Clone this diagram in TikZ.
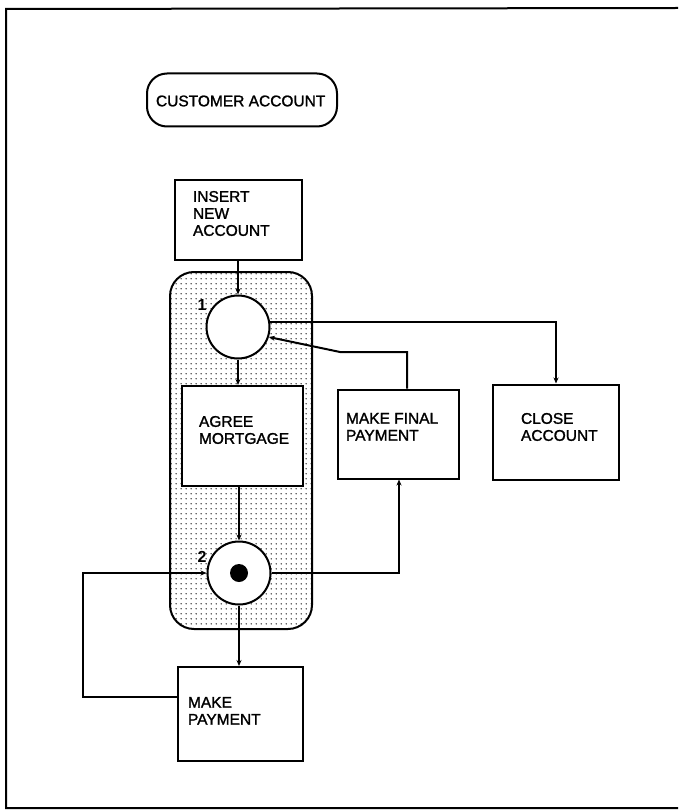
\documentclass[tikz,border=0pt]{standalone}
\usepackage{fontspec}
\setmainfont{Liberation Sans}
\newfontfamily\diafont[FakeBold=1.4]{Liberation Sans}
\usetikzlibrary{arrows.meta,patterns,calc}
\pgfdeclarepatternformonly{stipple}{\pgfpointorigin}{\pgfpoint{2.5pt}{2.5pt}}{\pgfpoint{5pt}{5pt}}{\pgfpathcircle{\pgfpoint{1.2pt}{1.2pt}}{0.75pt}\pgfusepath{fill}}
\begin{document}
\begin{tikzpicture}[x=1pt,y=-1pt,line width=2pt,
  >={Stealth[length=6pt,width=5pt]},
  box/.style={draw,rectangle,inner sep=0pt},
  txt/.style={font=\diafont\fontsize{15.5}{17}\selectfont,align=left,inner sep=0pt,anchor=north west},
  place/.style={draw,circle,fill=white,minimum size=63pt,inner sep=0pt},
  token/.style={circle,fill=black,minimum size=18pt,inner sep=0pt},
  num/.style={font=\fontsize{16}{17}\selectfont\bfseries,inner sep=0pt},
  region/.style={draw,pattern=stipple,pattern color=black!80,rounded corners=24pt}]
\useasboundingbox (0,0) rectangle (678,810);
% frame
\draw (678,8) -- (6,9) -- (6,808) -- (678,808);
% customer account
\node[box,rounded corners=20pt,minimum width=190pt,minimum height=53pt] (cust) at (242,100) {};
\node[txt,anchor=west] (custt) at (155,101) {CUSTOMER ACCOUNT};
% shaded region
\path[region] (170,272) rectangle (312,629);
% boxes
\node[box,minimum width=127pt,minimum height=80pt] (ins) at (238,220) {};
\node[txt] (inst) at (192,190) {INSERT\\NEW\\ACCOUNT};
\node[box,fill=white,minimum width=121pt,minimum height=100pt] (agree) at (242,436) {};
\node[txt] (agreet) at (198,415) {AGREE\\MORTGAGE};
\node[box,minimum width=121pt,minimum height=89pt] (final) at (398,434) {};
\node[txt] (finalt) at (345,412) {MAKE FINAL\\PAYMENT};
\node[box,minimum width=126pt,minimum height=95pt] (close) at (556,432) {};
\node[txt] (closet) at (520,412) {CLOSE\\ACCOUNT};
\node[box,minimum width=125pt,minimum height=94pt] (pay) at (240,714) {};
\node[txt] (payt) at (187,696) {MAKE\\PAYMENT};
% places
\node[place] (c1) at (238,327) {};
\node[place] (c2) at (239,573) {};
\node[token] (tok) at (c2) {};
\node[num] (n1) at (202,305) {1};
\node[num] (n2) at (202,557) {2};
% coordinates
\coordinate (f1) at (407,352);
\coordinate (f2) at (340,352);
\coordinate (f3) at (399,573);
\coordinate (l1) at (83,697);
% connectors
\draw[->] (ins.south) -- (c1.north);
\draw[->] (c1.south) -- (c1.south |- agree.north);
\draw[->] (c2.north |- agree.south) -- (c2.north);
\draw[->] (c2.south) -- (c2.south |- pay.north);
\draw[->] (c1.8) -| (close.north);
\draw[->] (final.north -| f1) -- (f1) -- (f2) -- (c1.-18);
\draw[->] (c2.east) -- (f3) -- (f3 |- final.south);
\draw[->] (pay.west |- l1) -- (l1) |- (c2.west);
\end{tikzpicture}
\end{document}
